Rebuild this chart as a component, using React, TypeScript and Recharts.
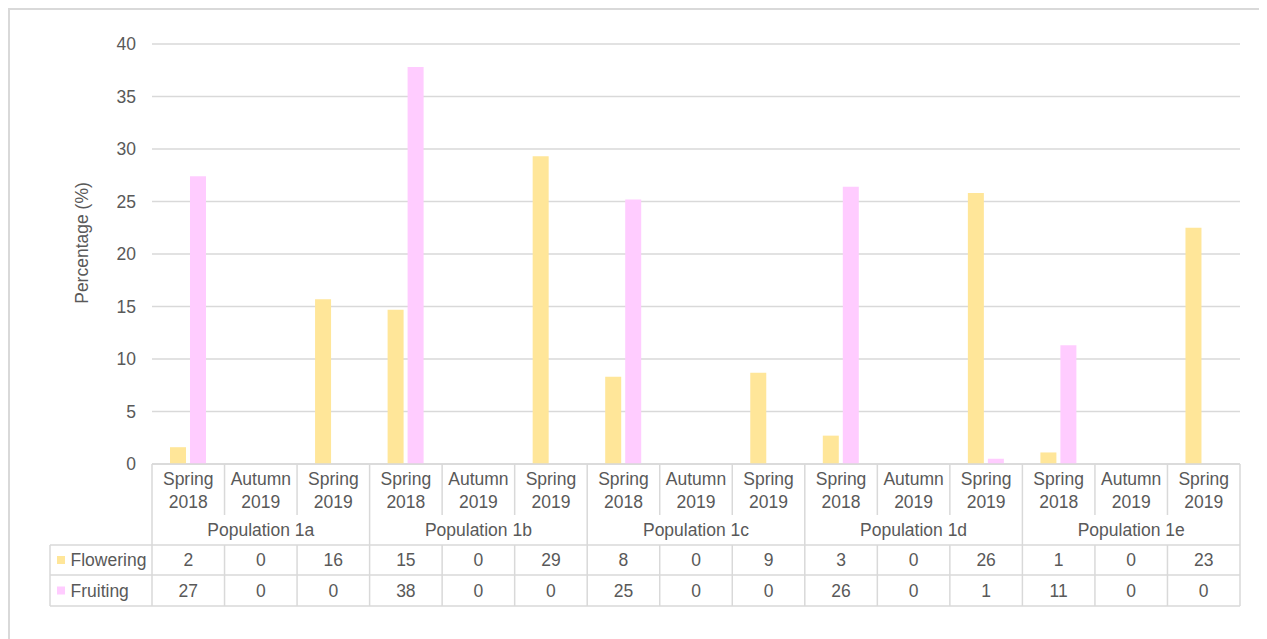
import React from 'react';
import { BarChart, Bar, XAxis, YAxis, CartesianGrid } from 'recharts';

const groups = ['Population 1a', 'Population 1b', 'Population 1c', 'Population 1d', 'Population 1e'];
const seasons = ['Spring 2018', 'Autumn 2019', 'Spring 2019'];
const flowering = [1.6, 0, 15.7, 14.7, 0, 29.3, 8.3, 0, 8.7, 2.7, 0, 25.8, 1.1, 0, 22.5];
const fruiting = [27.4, 0, 0, 37.8, 0, 0, 25.2, 0, 0, 26.4, 0, 0.5, 11.3, 0, 0];
const yTicks = [0, 5, 10, 15, 20, 25, 30, 35, 40];

const data = flowering.map((f, i) => ({
  key: groups[Math.floor(i / 3)] + '|' + seasons[i % 3],
  group: groups[Math.floor(i / 3)],
  season: seasons[i % 3],
  Flowering: f,
  Fruiting: fruiting[i],
}));

const W = 1259;
const H = 631;
const PL = 144;
const PR = 1232;
const PB = 456;
const PT = 36;
const BW = (PR - PL) / data.length;
const TABLE_L = 42;
const Y_CAT_BOTTOM = 507;
const Y_GROUP_BOTTOM = 537;
const Y_ROW1_BOTTOM = 567;
const Y_ROW2_BOTTOM = 598;

const FLOW_COLOR = '#FFE699';
const FRUIT_COLOR = '#FFCCFF';
const LINE = '#D9D9D9';
const TEXT = '#595959';
const FONT = '"Liberation Sans", Arial, sans-serif';
const FS = 17.5;

const txt = (x: number, y: number, s: string, anchor: string = 'middle', key?: string) => (
  <text key={key} x={x} y={y} textAnchor={anchor as any} dominantBaseline="central" fill={TEXT} fontSize={FS} fontFamily={FONT}>
    {s}
  </text>
);

const TableTick = (props: any) => {
  const { x, payload } = props;
  const i: number = payload.index;
  const d = data[i];
  const x0 = PL + i * BW;
  const x1 = x0 + BW;
  const [w1, w2] = d.season.split(' ');
  const els: any[] = [];
  els.push(txt(x, 471, w1, 'middle', 'a'));
  els.push(txt(x, 493.5, w2, 'middle', 'b'));
  if (i % 3 === 1) els.push(txt(x, 522, d.group, 'middle', 'g'));
  els.push(txt(x, 552, String(Math.round(d.Flowering)), 'middle', 'f'));
  els.push(txt(x, 582.5, String(Math.round(d.Fruiting)), 'middle', 'r'));
  if (i % 3 === 2) {
    els.push(<line key="v" x1={x1} x2={x1} y1={PB} y2={Y_ROW2_BOTTOM} stroke={LINE} strokeWidth={1.5} />);
  } else {
    els.push(<line key="v1" x1={x1} x2={x1} y1={PB} y2={Y_CAT_BOTTOM} stroke={LINE} strokeWidth={1.5} />);
    els.push(<line key="v2" x1={x1} x2={x1} y1={Y_GROUP_BOTTOM} y2={Y_ROW2_BOTTOM} stroke={LINE} strokeWidth={1.5} />);
  }
  if (i === 0) {
    els.push(<line key="l0" x1={x0} x2={x0} y1={PB} y2={Y_ROW2_BOTTOM} stroke={LINE} strokeWidth={1.5} />);
    els.push(<line key="lt" x1={TABLE_L} x2={TABLE_L} y1={Y_GROUP_BOTTOM} y2={Y_ROW2_BOTTOM} stroke={LINE} strokeWidth={1.5} />);
    els.push(<line key="h0" x1={PL} x2={PR} y1={PB} y2={PB} stroke={LINE} strokeWidth={1.5} />);
    els.push(<line key="h1" x1={TABLE_L} x2={PR} y1={Y_GROUP_BOTTOM} y2={Y_GROUP_BOTTOM} stroke={LINE} strokeWidth={1.5} />);
    els.push(<line key="h2" x1={TABLE_L} x2={PR} y1={Y_ROW1_BOTTOM} y2={Y_ROW1_BOTTOM} stroke={LINE} strokeWidth={1.5} />);
    els.push(<line key="h3" x1={TABLE_L} x2={PR} y1={Y_ROW2_BOTTOM} y2={Y_ROW2_BOTTOM} stroke={LINE} strokeWidth={1.5} />);
    els.push(<rect key="s1" x={49} y={548} width={8} height={8} fill={FLOW_COLOR} />);
    els.push(<rect key="s2" x={49} y={578.5} width={8} height={8} fill={FRUIT_COLOR} />);
    els.push(txt(62.5, 552, 'Flowering', 'start', 'lf'));
    els.push(txt(62.5, 582.5, 'Fruiting', 'start', 'lr'));
  }
  return <g>{els}</g>;
};

const YLabel = () => (
  <text x={74} y={235} transform="rotate(-90 74 235)" textAnchor="middle" dominantBaseline="central" fill={TEXT} fontSize={FS} fontFamily={FONT}>
    Percentage (%)
  </text>
);

export default function App() {
  return (
    <div style={{ position: 'relative', width: W, height: H, overflow: 'hidden' }}>
      <div
        style={{
          position: 'absolute',
          left: 0,
          top: 0,
          width: W + 40,
          height: H + 40,
          borderTop: '2px solid #D9D9D9',
          borderLeft: '2px solid #D9D9D9',
          boxSizing: 'border-box',
        }}
      />
      <BarChart width={W} height={H} data={data} margin={{ top: PT, right: W - PR, left: 0, bottom: 0 }} barSize={16} barGap={4}>
        <CartesianGrid vertical={false} stroke={LINE} strokeWidth={1.5} />
        <XAxis dataKey="key" height={H - PB} interval={0} axisLine={false} tickLine={false} tick={<TableTick />} />
        <YAxis
          width={PL}
          domain={[0, 40]}
          ticks={yTicks}
          axisLine={false}
          tickLine={false}
          tickMargin={10}
          tick={{ fill: TEXT, fontSize: FS, fontFamily: FONT }}
          label={<YLabel />}
        />
        <Bar dataKey="Flowering" fill={FLOW_COLOR} isAnimationActive={false} />
        <Bar dataKey="Fruiting" fill={FRUIT_COLOR} isAnimationActive={false} />
      </BarChart>
    </div>
  );
}
